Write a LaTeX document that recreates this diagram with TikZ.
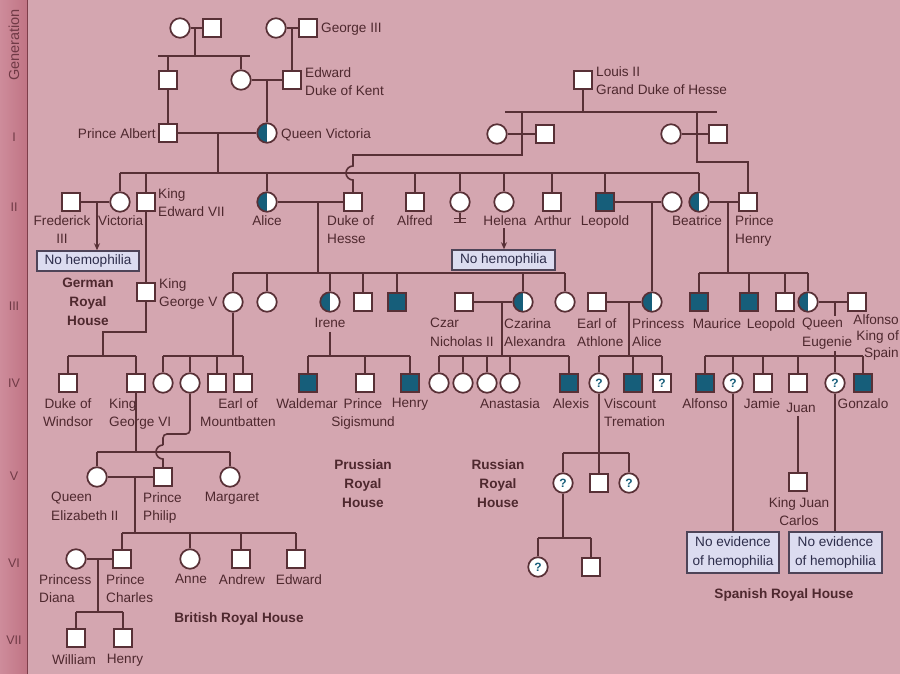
\documentclass[tikz,border=0pt]{standalone}
\usepackage{fontspec}
\setmainfont{Liberation Sans}
\usetikzlibrary{arrows.meta}
\definecolor{bgpink}{RGB}{212,166,176}
\definecolor{barL}{RGB}{206,140,155}
\definecolor{barR}{RGB}{192,116,132}
\definecolor{barline}{RGB}{125,62,74}
\definecolor{lncol}{RGB}{88,48,54}
\definecolor{txtc}{RGB}{78,40,46}
\definecolor{tealc}{RGB}{22,94,122}
\definecolor{boxfill}{RGB}{220,220,240}
\definecolor{boxdraw}{RGB}{78,68,88}
\definecolor{boxtxt}{RGB}{45,45,75}
\definecolor{gencol}{RGB}{112,58,70}
\begin{document}
\begin{tikzpicture}[x=1pt,y=-1pt,
  ln/.style={draw=lncol, line width=1.6pt},
  sym/.style={draw=lncol, line width=1.7pt, fill=white, inner sep=0pt},
  mal/.style={sym, rectangle, minimum size=17.5pt},
  fem/.style={sym, circle, minimum size=19.5pt},
  amal/.style={mal, fill=tealc},
  cfem/.style={fem, path picture={\fill[tealc] (path picture bounding box.south west) rectangle (path picture bounding box.north);}},
  qfem/.style={fem, font=\fontsize{12}{12}\selectfont\bfseries, text=tealc},
  qmal/.style={mal, font=\fontsize{12}{12}\selectfont\bfseries, text=tealc},
  lbl/.style={font=\fontsize{13.6}{18.5}\selectfont, text=txtc, inner sep=0pt},
  blbl/.style={font=\fontsize{13.6}{19}\selectfont\bfseries, text=txtc, inner sep=0pt, align=center},
  hembox/.style={draw=boxdraw, line width=1.5pt, fill=boxfill, text=boxtxt, font=\fontsize{13.6}{19}\selectfont, inner sep=0pt, align=center},
  genlbl/.style={font=\fontsize{12.5}{12.5}\selectfont, text=gencol, inner sep=0pt},
  arr/.style={ln, -{Stealth[length=7pt,width=6pt]}}
]
% background
\fill[bgpink] (0,0) rectangle (900,674);
\useasboundingbox (0,0) rectangle (900,674);
\shade[left color=barL, right color=barR] (0,0) rectangle (27,674);
\draw[barline, line width=1.8pt] (27.5,0) -- (27.5,674);
\node[genlbl, rotate=90, font=\fontsize{14.5}{14.5}\selectfont] (gen) at (14,45) {Generation};
\node[genlbl] (gI) at (14,137) {I};
\node[genlbl] (gII) at (14,207) {II};
\node[genlbl] (gIII) at (14,306) {III};
\node[genlbl] (gIV) at (14,383) {IV};
\node[genlbl] (gV) at (14,476) {V};
\node[genlbl] (gVI) at (14,563) {VI};
\node[genlbl] (gVII) at (14,640) {VII};

% ---------------- symbols ----------------
\node[fem] (ga) at (180,28) {};
\node[mal] (gb) at (212,28) {};
\node[fem] (gc) at (276,28) {};
\node[mal] (g3) at (308,28) {};
\node[mal] (ern) at (168,80) {};
\node[fem] (vm) at (241,80) {};
\node[mal] (edw) at (292,80) {};
\node[mal] (louis) at (583,80) {};
\node[mal] (alb) at (168,133) {};
\node[cfem] (qv) at (267,133) {};
\node[fem] (hc1) at (497,134) {};
\node[mal] (hs1) at (545,134) {};
\node[fem] (hc2) at (671,134) {};
\node[mal] (hs2) at (718,134) {};
% gen II
\node[mal] (fred) at (71,202) {};
\node[fem] (vic) at (120,202) {};
\node[mal] (ed7) at (146,202) {};
\node[cfem] (alice) at (267,202) {};
\node[mal] (dhesse) at (353,202) {};
\node[mal] (alfred) at (415,202) {};
\node[fem] (louise) at (460,202) {};
\node[fem] (helena) at (504,202) {};
\node[mal] (arthur) at (552,202) {};
\node[amal] (leo) at (605,202) {};
\node[fem] (helene) at (672,202) {};
\node[cfem] (beat) at (699,202) {};
\node[mal] (phenry) at (748,202) {};
% gen III
\node[mal] (geo5) at (146,292) {};
\node[fem] (vicH) at (233,302) {};
\node[fem] (ella) at (267,302) {};
\node[cfem] (irene) at (330,302) {};
\node[mal] (ernH) at (363,302) {};
\node[amal] (fritz) at (397,302) {};
\node[mal] (czar) at (464,302) {};
\node[cfem] (czarina) at (523,302) {};
\node[fem] (mary) at (565,302) {};
\node[mal] (athlone) at (597,302) {};
\node[cfem] (palice) at (652,302) {};
\node[amal] (maurice) at (699,302) {};
\node[amal] (leoB) at (749,302) {};
\node[mal] (alexB) at (785,302) {};
\node[cfem] (eug) at (808,302) {};
\node[mal] (alf13) at (857,302) {};
% gen IV
\node[mal] (windsor) at (68,383) {};
\node[mal] (geo6) at (136,383) {};
\node[fem] (ab1) at (163,383) {};
\node[fem] (ab2) at (190,383) {};
\node[mal] (ab3) at (217,383) {};
\node[mal] (mount) at (243,383) {};
\node[amal] (wald) at (308,383) {};
\node[mal] (sigis) at (365,383) {};
\node[amal] (henP) at (410,383) {};
\node[fem] (r1) at (439,383) {};
\node[fem] (r2) at (463,383) {};
\node[fem] (r3) at (487,383) {};
\node[fem] (anast) at (510,383) {};
\node[amal] (alexis) at (569,383) {};
\node[qfem] (q1) at (599,383) {?};
\node[amal] (visc) at (633,383) {};
\node[qmal] (qm) at (662,383) {?};
\node[amal] (alfS) at (705,383) {};
\node[qfem] (q2) at (733,383) {?};
\node[mal] (jamie) at (763,383) {};
\node[mal] (juan) at (798,383) {};
\node[qfem] (q3) at (835,383) {?};
\node[amal] (gonz) at (863,383) {};
% gen V
\node[fem] (qe2) at (97,477) {};
\node[mal] (philip) at (163,477) {};
\node[fem] (marg) at (230,477) {};
\node[qfem] (q4) at (563,483) {?};
\node[mal] (rs1) at (599,483) {};
\node[qfem] (q5) at (629,483) {?};
\node[mal] (jc) at (798,482) {};
% gen VI
\node[fem] (diana) at (76,559) {};
\node[mal] (charles) at (122,559) {};
\node[fem] (anne) at (190,559) {};
\node[mal] (andrew) at (241,559) {};
\node[mal] (edwd) at (296,559) {};
\node[qfem] (q6) at (538,567) {?};
\node[mal] (rs2) at (591,567) {};
% gen VII
\node[mal] (will) at (76,638) {};
\node[mal] (harry) at (123,638) {};

% boxes
\node[hembox, minimum width=102pt, minimum height=20pt] (nh1) at (88,261) {No hemophilia};
\node[hembox, minimum width=103pt, minimum height=20pt] (nh2) at (503.5,260) {No hemophilia};
\node[hembox, minimum width=92pt, minimum height=41pt] (ne1) at (733,552.5) {No evidence\\of hemophilia};
\node[hembox, minimum width=93pt, minimum height=41pt] (ne2) at (835.5,552.5) {No evidence\\of hemophilia};

% ---------------- labels ----------------
\node[lbl, anchor=north west] (lg3) at (321,23) {George III};
\node[lbl, anchor=north west, align=left] (ledw) at (305,67) {Edward\\Duke of Kent};
\node[lbl, anchor=north west, align=left] (llouis) at (596,66) {Louis II\\Grand Duke of Hesse};
\node[lbl, anchor=north east] (lalb) at (156,128) {Prince Albert};
\node[lbl, anchor=north west] (lqv) at (281,128) {Queen Victoria};
\node[lbl, anchor=north, align=center] (lfred) at (62,215) {Frederick\\III};
\node[lbl, anchor=north west] (lvic) at (98,215) {Victoria};
\node[lbl, anchor=north west, align=left] (led7) at (158,188) {King\\Edward VII};
\node[lbl, anchor=north] (lalice) at (267,215) {Alice};
\node[lbl, anchor=north west, align=left] (ldh) at (327,215) {Duke of\\Hesse};
\node[lbl, anchor=north] (lalfred) at (415,215) {Alfred};
\node[lbl, anchor=north] (lhelena) at (505,215) {Helena};
\node[lbl, anchor=north] (larthur) at (553,215) {Arthur};
\node[lbl, anchor=north] (lleo) at (605,215) {Leopold};
\node[lbl, anchor=north] (lbeat) at (697,215) {Beatrice};
\node[lbl, anchor=north west, align=left] (lph) at (735,215) {Prince\\Henry};
\node[blbl, anchor=north] (lgerman) at (88,278) {German\\Royal\\House};
\node[lbl, anchor=north west, align=left] (lg5) at (159,278) {King\\George V};
\node[lbl, anchor=north] (lirene) at (330,318) {Irene};
\node[lbl, anchor=north west, align=left] (lczar) at (430,318) {Czar\\Nicholas II};
\node[lbl, anchor=north west, align=left] (lczarina) at (504,318) {Czarina\\Alexandra};
\node[lbl, anchor=north west, align=left] (lath) at (577,318) {Earl of\\Athlone};
\node[lbl, anchor=north west, align=left] (lpal) at (632,318) {Princess\\Alice};
\node[lbl, anchor=north] (lmaur) at (717,318) {Maurice};
\node[lbl, anchor=north] (lleoB) at (771,318) {Leopold};
\node[lbl, anchor=north west, align=left] (leug) at (802,318) {Queen\\Eugenie};
\node[lbl, anchor=north east, align=right, font=\fontsize{13.6}{16.8}\selectfont] (lalf13) at (899,314) {Alfonso\\King of\\Spain};
\node[lbl, anchor=north, align=center] (lwind) at (68,398) {Duke of\\Windsor};
\node[lbl, anchor=north west, align=left] (lg6) at (109,398) {King\\George VI};
\node[lbl, anchor=north, align=center] (lmount) at (238,398) {Earl of\\Mountbatten};
\node[lbl, anchor=north] (lwald) at (307,398) {Waldemar};
\node[lbl, anchor=north, align=center] (lsig) at (363,398) {Prince\\Sigismund};
\node[lbl, anchor=north] (lhenP) at (410,398) {Henry};
\node[lbl, anchor=north] (lanast) at (510,398) {Anastasia};
\node[lbl, anchor=north] (lalexis) at (571,398) {Alexis};
\node[lbl, anchor=north west, align=left] (lvisc) at (604,398) {Viscount\\Tremation};
\node[lbl, anchor=north] (lalfS) at (705,398) {Alfonso};
\node[lbl, anchor=north] (ljamie) at (762,398) {Jamie};
\node[lbl, anchor=north] (ljuan) at (801,403) {Juan};
\node[lbl, anchor=north] (lgonz) at (863,398) {Gonzalo};
\node[lbl, anchor=north west, align=left] (lqe2) at (51,492) {Queen\\Elizabeth II};
\node[lbl, anchor=north west, align=left] (lphil) at (143,492) {Prince\\Philip};
\node[lbl, anchor=north] (lmarg) at (232,492) {Margaret};
\node[blbl, anchor=north] (lprus) at (363,459) {Prussian\\Royal\\House};
\node[blbl, anchor=north] (lruss) at (498,459) {Russian\\Royal\\House};
\node[lbl, anchor=north, align=center] (ljc) at (799,497) {King Juan\\Carlos};
\node[lbl, anchor=north west, align=left] (ldiana) at (39,574) {Princess\\Diana};
\node[lbl, anchor=north west, align=left] (lcharles) at (106,574) {Prince\\Charles};
\node[lbl, anchor=north] (lanne) at (191,574) {Anne};
\node[lbl, anchor=north] (landrew) at (242,574) {Andrew};
\node[lbl, anchor=north] (ledwd) at (299,574) {Edward};
\node[blbl, anchor=north] (lbrit) at (239,612) {British Royal House};
\node[blbl, anchor=north] (lspan) at (784,588) {Spanish Royal House};
\node[lbl, anchor=north] (lwill) at (74,654) {William};
\node[lbl, anchor=north] (lharry) at (125,654) {Henry};

% ---------------- connectors ----------------
\draw[ln] (ga) -- (gb);
\coordinate (s0) at (195,56);
\coordinate (s0l) at (158,56);
\coordinate (s0r) at (250,56);
\draw[ln] (ga -| s0) -- (s0);
\draw[ln] (s0l) -- (s0r);
\draw[ln] (ern |- s0) -- (ern);
\draw[ln] (vm |- s0) -- (vm);
\draw[ln] (gc) -- (g3);
\coordinate (m1) at (292,28);
\draw[ln] (m1) -- (edw);
\draw[ln] (vm) -- (edw);
\draw[ln] (qv |- vm) -- (qv);
\draw[ln] (ern) -- (alb);
\draw[ln] (alb) -- (qv);
\coordinate (mAV) at (218,133);
\coordinate (sII) at (218,173);
\coordinate (sIIl) at (120,173);
\coordinate (sIIr) at (699,173);
\draw[ln] (mAV) -- (sII);
\draw[ln] (sIIl) -- (sIIr);
\foreach \c in {vic,ed7,alice,alfred,louise,helena,arthur,leo,beat}
  \draw[ln] (\c |- sII) -- (\c);
% Louis II
\coordinate (sL) at (583,112);
\coordinate (sLl) at (505,112);
\coordinate (sLr) at (717,112);
\draw[ln] (louis) -- (sL);
\draw[ln] (sLl) -- (sLr);
\draw[ln] (hc1) -- (hs1);
\draw[ln] (hc2) -- (hs2);
\coordinate (hA) at (522,112);
\coordinate (hB) at (522,155);
\coordinate (hC) at (353,155);
\draw[ln] (hA) -- (hB) -- (hC) -- ++(0,11) arc[start angle=270,end angle=90,radius=7] -- (dhesse);
\coordinate (pA) at (697,112);
\coordinate (pB) at (697,162);
\coordinate (pC) at (748,162);
\draw[ln] (pA) -- (pB) -- (pC) -- (phenry);
% gen II couples
\draw[ln] (fred) -- (vic);
\coordinate (mFV) at (97,202);
\draw[arr] (mFV) -- (mFV |- nh1.north);
\draw[ln] (louise.south) -- ++(0,10) ++(-6,-4) -- ++(12,0) ++(-12,4) -- ++(12,0);
\draw[arr] (helena |- lhelena.south) ++(0,3) -- (helena |- nh2.north);
\draw[ln] (alice) -- (dhesse);
\coordinate (mAH) at (318,202);
\coordinate (sIII) at (318,273);
\coordinate (sIIIl) at (233,273);
\coordinate (sIIIr) at (565,273);
\draw[ln] (mAH) -- (sIII);
\draw[ln] (sIIIl) -- (sIIIr);
\foreach \c in {vicH,ella,irene,ernH,fritz,czarina,mary}
  \draw[ln] (\c |- sIII) -- (\c);
\draw[ln] (leo) -- (helene);
\coordinate (mLH) at (652,202);
\draw[ln] (mLH) -- (palice);
\draw[ln] (beat) -- (phenry);
\coordinate (mBH) at (728,202);
\coordinate (sB) at (728,273);
\coordinate (sBl) at (699,273);
\coordinate (sBr) at (808,273);
\draw[ln] (mBH) -- (sB);
\draw[ln] (sBl) -- (sBr);
\foreach \c in {maurice,leoB,alexB,eug}
  \draw[ln] (\c |- sB) -- (\c);
% gen III -> IV
\draw[ln] (ed7) -- (geo5);
\coordinate (g5a) at (146,332);
\coordinate (g5b) at (103,332);
\coordinate (sW) at (103,356);
\coordinate (sWl) at (68,356);
\coordinate (sWr) at (136,356);
\draw[ln] (geo5) -- (g5a) -- (g5b) -- (sW);
\draw[ln] (sWl) -- (sWr);
\foreach \c in {windsor,geo6}
  \draw[ln] (\c |- sW) -- (\c);
\coordinate (sV) at (233,356);
\coordinate (sVl) at (163,356);
\coordinate (sVr) at (243,356);
\draw[ln] (vicH) -- (sV);
\draw[ln] (sVl) -- (sVr);
\foreach \c in {ab1,ab2,ab3,mount}
  \draw[ln] (\c |- sV) -- (\c);
\coordinate (sI) at (330,356);
\coordinate (sIl) at (308,356);
\coordinate (sIr) at (410,356);
\draw[ln, shorten <=4pt] (lirene.south) -- (sI);
\draw[ln] (sIl) -- (sIr);
\foreach \c in {wald,sigis,henP}
  \draw[ln] (\c |- sI) -- (\c);
\draw[ln] (czar) -- (czarina);
\coordinate (mCC) at (502,302);
\coordinate (sR) at (502,356);
\coordinate (sRl) at (439,356);
\coordinate (sRr) at (569,356);
\draw[ln] (mCC) -- (sR);
\draw[ln] (sRl) -- (sRr);
\foreach \c in {r1,r2,r3,anast,alexis}
  \draw[ln] (\c |- sR) -- (\c);
\draw[ln] (athlone) -- (palice);
\coordinate (mAt) at (629,302);
\coordinate (sA) at (629,356);
\coordinate (sAl) at (599,356);
\coordinate (sAr) at (662,356);
\draw[ln] (mAt) -- (sA);
\draw[ln] (sAl) -- (sAr);
\foreach \c in {q1,visc,qm}
  \draw[ln] (\c |- sA) -- (\c);
\draw[ln] (eug) -- (alf13);
\coordinate (mES) at (835,302);
\coordinate (sS) at (835,356);
\coordinate (sSl) at (705,356);
\coordinate (sSr) at (863,356);
\draw[ln, shorten >=2pt] (mES) -- (mES |- leug.north);
\draw[ln, shorten <=2pt] (mES |- leug.south) -- (sS);
\draw[ln] (sSl) -- (sSr);
\foreach \c in {alfS,q2,jamie,juan,q3,gonz}
  \draw[ln] (\c |- sS) -- (\c);
% gen IV -> V
\coordinate (s5) at (136,452);
\coordinate (s5l) at (97,452);
\coordinate (s5r) at (230,452);
\draw[ln] (geo6) -- (s5);
\draw[ln] (s5l) -- (s5r);
\foreach \c in {qe2,marg}
  \draw[ln] (\c |- s5) -- (\c);
\coordinate (ph1) at (190,434);
\coordinate (ph2) at (163,434);
\coordinate (ph3) at (163,445);
\draw[ln, rounded corners=4pt] (ab2) -- (ph1) -- (ph2) -- (ph3);
\draw[ln] (ph3) arc[start angle=270,end angle=90,radius=7] -- (philip);
\draw[ln] (qe2) -- (philip);
\coordinate (mQP) at (135,477);
\coordinate (s6) at (135,533);
\coordinate (s6l) at (122,533);
\coordinate (s6r) at (296,533);
\draw[ln] (mQP) -- (s6);
\draw[ln] (s6l) -- (s6r);
\foreach \c in {charles,anne,andrew,edwd}
  \draw[ln] (\c |- s6) -- (\c);
\draw[ln] (diana) -- (charles);
\coordinate (mDC) at (98,559);
\coordinate (s7) at (98,612);
\coordinate (s7l) at (76,612);
\coordinate (s7r) at (123,612);
\draw[ln] (mDC) -- (s7);
\draw[ln] (s7l) -- (s7r);
\foreach \c in {will,harry}
  \draw[ln] (\c |- s7) -- (\c);
% Russian line descendants
\coordinate (sq1) at (599,453);
\coordinate (sq1l) at (563,453);
\coordinate (sq1r) at (629,453);
\draw[ln] (q1) -- (sq1);
\draw[ln] (sq1l) -- (sq1r);
\foreach \c in {q4,rs1,q5}
  \draw[ln] (\c |- sq1) -- (\c);
\coordinate (sq4) at (563,538);
\coordinate (sq4l) at (538,538);
\coordinate (sq4r) at (591,538);
\draw[ln] (q4) -- (sq4);
\draw[ln] (sq4l) -- (sq4r);
\foreach \c in {q6,rs2}
  \draw[ln] (\c |- sq4) -- (\c);
% Spanish
\draw[ln] (q2) -- (q2 |- ne1.north);
\draw[ln] (q3) -- (q3 |- ne2.north);
\draw[ln, shorten <=3pt] (juan |- ljuan.south) -- (jc);
\end{tikzpicture}
\end{document}
